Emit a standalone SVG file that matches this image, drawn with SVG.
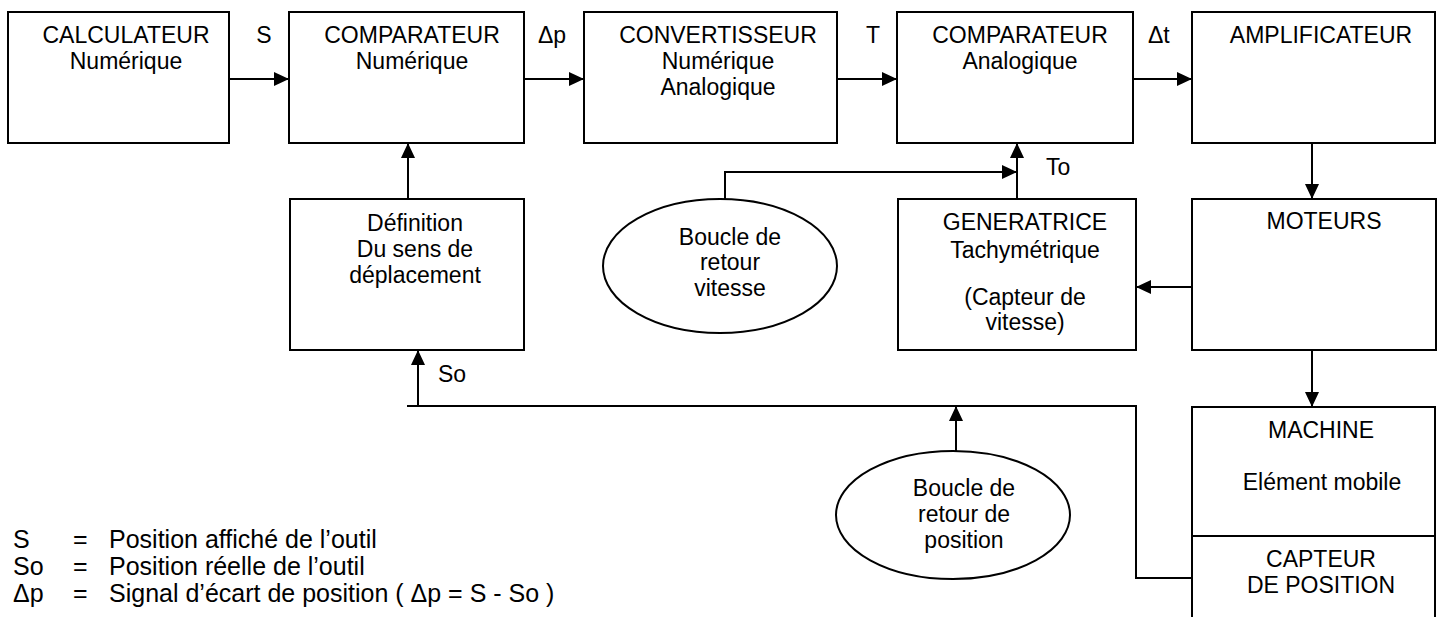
<svg xmlns="http://www.w3.org/2000/svg" width="1446" height="617" viewBox="0 0 1446 617">
<style>
  rect, ellipse { fill: #fff; stroke: #000; stroke-width: 2; }
  .c { fill: none; stroke: #000; stroke-width: 2; }
  text { font-family: "Liberation Sans", Arial, sans-serif; font-size: 23px; fill: #000; }
  .m { text-anchor: middle; }
  .lg { font-size: 25px; }
</style>
<defs>
  <marker id="ah" markerUnits="userSpaceOnUse" markerWidth="15" markerHeight="14" refX="15" refY="7" orient="auto">
    <path d="M0,0 L15,7 L0,14 z" fill="#000"/>
  </marker>
</defs>
<rect x="0" y="0" width="1446" height="617" style="stroke:none"/>

<g id="connectors">
  <path class="c" d="M229,79 H289" marker-end="url(#ah)"/>
  <path class="c" d="M524,79 H584" marker-end="url(#ah)"/>
  <path class="c" d="M837,79 H897" marker-end="url(#ah)"/>
  <path class="c" d="M1133,79 H1192" marker-end="url(#ah)"/>
  <path class="c" d="M1312,143 V199" marker-end="url(#ah)"/>
  <path class="c" d="M1312,350 V407" marker-end="url(#ah)"/>
  <path class="c" d="M1192,287 H1136" marker-end="url(#ah)"/>
  <path class="c" d="M1017,199 V143" marker-end="url(#ah)"/>
  <path class="c" d="M725,199 V172 H1017" marker-end="url(#ah)"/>
  <path class="c" d="M408,199 V143" marker-end="url(#ah)"/>
  <path class="c" d="M418,406 V350" marker-end="url(#ah)"/>
  <path class="c" d="M407,406 H1136 V578 H1192"/>
  <path class="c" d="M956,451 V406" marker-end="url(#ah)"/>
  <text x="264" y="43" class="m">S</text>
  <text x="538" y="43">Δp</text>
  <text x="873" y="43" class="m">T</text>
  <text x="1148" y="43">Δt</text>
  <text x="1046" y="175">To</text>
  <text x="438" y="382">So</text>
</g>

<g id="calculateur">
  <rect x="8" y="12" width="221" height="131"/>
  <text x="126" y="43" class="m">CALCULATEUR</text>
  <text x="126" y="69" class="m">Numérique</text>
</g>
<g id="comparateur-numerique">
  <rect x="289" y="12" width="235" height="131"/>
  <text x="412" y="43" class="m">COMPARATEUR</text>
  <text x="412" y="69" class="m">Numérique</text>
</g>
<g id="convertisseur">
  <rect x="584" y="12" width="253" height="131"/>
  <text x="718" y="43" class="m">CONVERTISSEUR</text>
  <text x="718" y="69" class="m">Numérique</text>
  <text x="718" y="95" class="m">Analogique</text>
</g>
<g id="comparateur-analogique">
  <rect x="897" y="12" width="236" height="131"/>
  <text x="1020" y="43" class="m">COMPARATEUR</text>
  <text x="1020" y="69" class="m">Analogique</text>
</g>
<g id="amplificateur">
  <rect x="1192" y="12" width="243" height="131"/>
  <text x="1321" y="43" class="m">AMPLIFICATEUR</text>
</g>
<g id="definition">
  <rect x="290" y="199" width="234" height="151"/>
  <text x="415" y="231" class="m">Définition</text>
  <text x="415" y="257" class="m">Du sens de</text>
  <text x="415" y="283" class="m">déplacement</text>
</g>
<g id="boucle-vitesse">
  <ellipse cx="720" cy="266" rx="117" ry="67"/>
  <text x="730" y="245" class="m">Boucle de</text>
  <text x="730" y="270" class="m">retour</text>
  <text x="730" y="296" class="m">vitesse</text>
</g>
<g id="generatrice">
  <rect x="898" y="199" width="238" height="151"/>
  <text x="1025" y="230" class="m">GENERATRICE</text>
  <text x="1025" y="258" class="m">Tachymétrique</text>
  <text x="1025" y="305" class="m">(Capteur de</text>
  <text x="1025" y="330" class="m">vitesse)</text>
</g>
<g id="moteurs">
  <rect x="1192" y="199" width="244" height="151"/>
  <text x="1324" y="229" class="m">MOTEURS</text>
</g>
<g id="machine">
  <rect x="1192" y="407" width="243" height="260"/>
  <text x="1321" y="438" class="m">MACHINE</text>
  <text x="1322" y="490" class="m">Elément mobile</text>
</g>
<g id="capteur-position">
  <path class="c" d="M1192,536 H1435"/>
  <text x="1321" y="567" class="m">CAPTEUR</text>
  <text x="1321" y="593" class="m">DE POSITION</text>
</g>
<g id="boucle-position">
  <ellipse cx="953" cy="515" rx="117" ry="64"/>
  <text x="964" y="496" class="m">Boucle de</text>
  <text x="964" y="522" class="m">retour de</text>
  <text x="964" y="548" class="m">position</text>
</g>
<g id="legende" class="lg">
  <text class="lg" x="13" y="548">S</text>
  <text class="lg" x="73" y="548">=</text>
  <text class="lg" x="109" y="548">Position affiché de l’outil</text>
  <text class="lg" x="13" y="575">So</text>
  <text class="lg" x="73" y="575">=</text>
  <text class="lg" x="109" y="575">Position réelle de l’outil</text>
  <text class="lg" x="13" y="602">Δp</text>
  <text class="lg" x="73" y="602">=</text>
  <text class="lg" x="109" y="602">Signal d’écart de position ( Δp = S - So )</text>
</g>
</svg>
